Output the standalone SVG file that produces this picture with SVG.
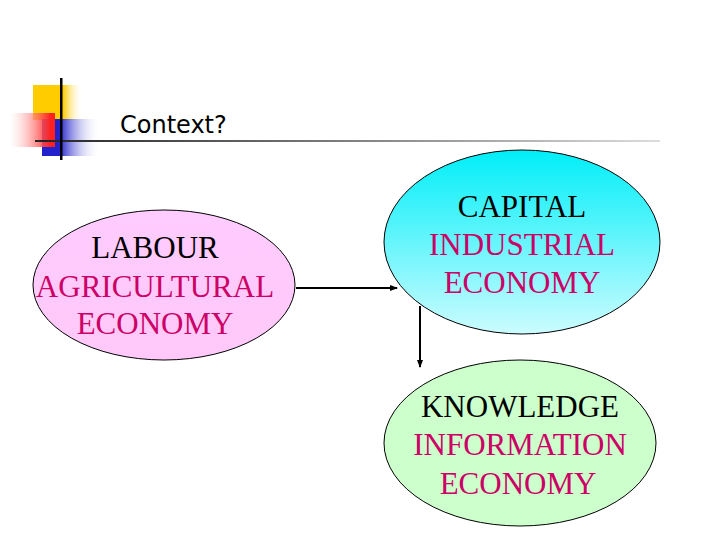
<svg xmlns="http://www.w3.org/2000/svg" width="720" height="540" viewBox="0 0 720 540">
<defs>
<linearGradient id="ln" x1="0" x2="1"><stop offset="0" stop-color="#222"/><stop offset="1" stop-color="#ddd"/></linearGradient>
<linearGradient id="yl" x1="0" x2="1"><stop offset="0.6" stop-color="#ffcc00"/><stop offset="1" stop-color="#fff" stop-opacity="0"/></linearGradient>
<linearGradient id="bl" x1="0" x2="1"><stop offset="0.3" stop-color="#2222cc"/><stop offset="1" stop-color="#fff" stop-opacity="0"/></linearGradient>
<linearGradient id="rd" x1="1" x2="0"><stop offset="0.1" stop-color="#ff2020"/><stop offset="1" stop-color="#fff" stop-opacity="0.3"/></linearGradient>
<linearGradient id="cy" x1="0" y1="0" x2="0" y2="1"><stop offset="0" stop-color="#00eef8"/><stop offset="1" stop-color="#ccfcff"/></linearGradient>
<linearGradient id="pk" x1="0" y1="0" x2="0" y2="1"><stop offset="0" stop-color="#ffccff"/><stop offset="1" stop-color="#ffc8f8"/></linearGradient>
<marker id="ar" markerWidth="8" markerHeight="8" refX="7" refY="4" orient="auto" markerUnits="userSpaceOnUse"><path d="M0,1 L8,4 L0,7 Z" fill="#000"/></marker>
<style>
.e{stroke:#000;stroke-width:1}
.t{font-family:"Liberation Serif",serif;font-size:31px;text-anchor:middle}
.m{fill:#cc0066}
</style>
</defs>
<g id="deco">
<rect x="33" y="85" width="50" height="35" fill="url(#yl)"/>
<rect x="42" y="119" width="58" height="37" fill="url(#bl)"/>
<rect x="10" y="113" width="45" height="34" fill="url(#rd)"/>
<rect x="35" y="140" width="625" height="2" fill="url(#ln)"/>
<rect x="60" y="78" width="2.5" height="82" fill="#000"/>
<text x="120" y="133" font-family="DejaVu Sans,sans-serif" font-size="24">Context?</text>
</g>
<g id="labour">
<ellipse cx="164" cy="285" rx="131" ry="75" fill="url(#pk)" class="e"/>
<text class="t" x="155" y="258">LABOUR</text>
<text class="t m" x="155" y="297">AGRICULTURAL</text>
<text class="t m" x="155" y="334">ECONOMY</text>
</g>
<g id="capital">
<ellipse cx="522" cy="242" rx="138" ry="92" fill="url(#cy)" class="e"/>
<text class="t" x="522" y="217">CAPITAL</text>
<text class="t m" x="522" y="255">INDUSTRIAL</text>
<text class="t m" x="522" y="293">ECONOMY</text>
</g>
<g id="knowledge">
<ellipse cx="520" cy="443" rx="136" ry="83" fill="#ccffcc" class="e"/>
<text class="t" x="520" y="417">KNOWLEDGE</text>
<text class="t m" x="520" y="455">INFORMATION</text>
<text class="t m" x="518" y="494">ECONOMY</text>
</g>
<g id="connectors" stroke="#000" stroke-width="2" fill="none">
<line x1="296" y1="288" x2="397" y2="288" marker-end="url(#ar)"/>
<line x1="420" y1="306" x2="420" y2="367" marker-end="url(#ar)"/>
</g>
</svg>
